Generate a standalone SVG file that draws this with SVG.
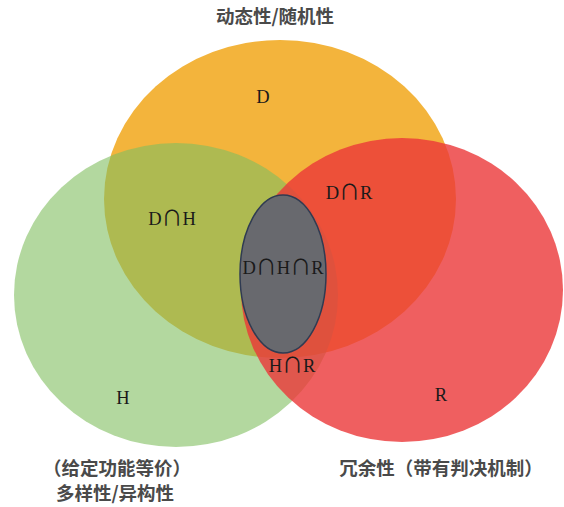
<svg xmlns="http://www.w3.org/2000/svg" width="564" height="507" viewBox="0 0 564 507">
<style>
.lbl{font-family:"Liberation Serif","DejaVu Serif",serif;font-size:18.5px;fill:#1a1a1a;text-anchor:middle}
.cap{font-family:"Noto Sans CJK SC","DejaVu Serif",serif;font-size:21px}
.ttl{font-family:"Noto Sans CJK SC","Noto Sans",sans-serif;font-size:18.5px;font-weight:700;fill:#4a4a4a;text-anchor:middle}
</style>
<rect width="564" height="507" fill="#ffffff"/>
<g id="D">
<ellipse cx="280" cy="199" rx="176" ry="159" fill="#F3B43C"/>
</g>
<g id="H">
<ellipse cx="176" cy="295" rx="162" ry="152" fill="#80BE5F" fill-opacity="0.6"/>
</g>
<g id="R">
<ellipse cx="402" cy="290" rx="161" ry="152" fill="#EB3738" fill-opacity="0.8"/>
</g>
<g id="DHR">
<ellipse cx="283" cy="274" rx="43" ry="79" fill="#68696E" stroke="#2F3B52" stroke-width="1.5"/>
</g>
<g id="connectors"/>
<g id="labels">
<text class="lbl" x="263" y="103">D</text>
<text class="lbl" x="172" y="225">D<tspan class="cap">∩</tspan>H</text>
<text class="lbl" x="349" y="199">D<tspan class="cap">∩</tspan>R</text>
<text class="lbl" x="283" y="274">D<tspan class="cap">∩</tspan>H<tspan class="cap">∩</tspan>R</text>
<text class="lbl" x="292" y="372">H<tspan class="cap">∩</tspan>R</text>
<text class="lbl" x="123" y="404">H</text>
<text class="lbl" x="441" y="401">R</text>
</g>
<g id="titles">
<text class="ttl" x="275" y="23">动态性/随机性</text>
<text class="ttl" x="117" y="475">（给定功能等价）</text>
<text class="ttl" x="115" y="500">多样性/异构性</text>
<text class="ttl" x="441" y="475">冗余性（带有判决机制）</text>
</g>
</svg>
